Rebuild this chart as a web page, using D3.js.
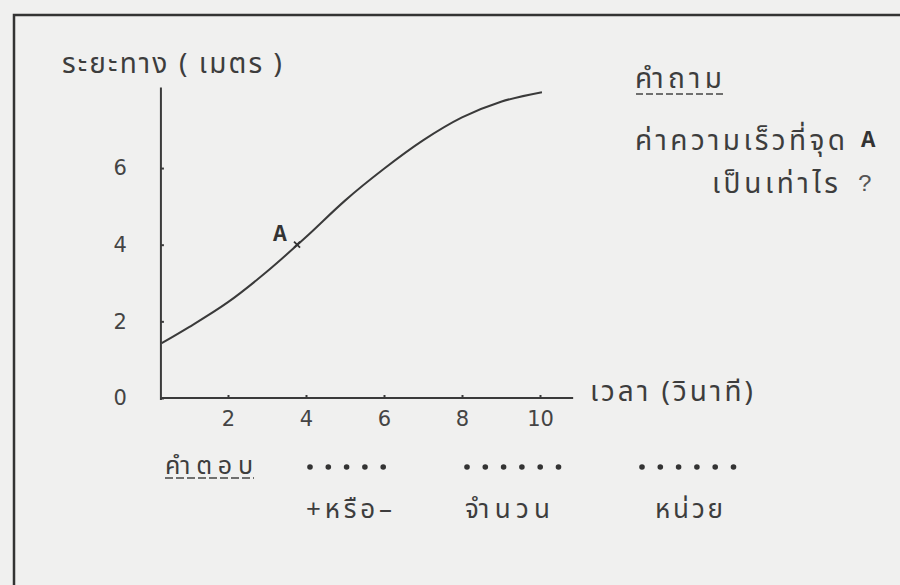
<!DOCTYPE html>
<meta charset="utf-8">
<script src="https://d3js.org/d3.v7.min.js"></script>
<style>
  body { margin: 0; background: #f0f0ef; }
  svg { display: block; }
  .thai { font-family: "Noto Sans Thai", "Loma", "Garuda", "Norasi", "DejaVu Sans", sans-serif; fill: #3d3d3d; }
  .num { font-family: "DejaVu Sans", sans-serif; fill: #444; }
</style>
<div id="chart"></div>
<script>
// ค่าที่อ่านจากกราฟ (เวลา วินาที / ระยะทาง เมตร)
const timeVals = [0.3, 1, 2, 3, 4, 5, 6, 7, 8, 9, 10.05];
const distVals = [1.43, 1.85, 2.5, 3.3, 4.2, 5.15, 5.98, 6.72, 7.32, 7.73, 7.98];
const xTicks = [2, 4, 6, 8, 10];
const yTicks = [0, 2, 4, 6];
const pointA = { t: 3.77, d: 4.0, label: "A" };

const yTitle = "ระยะทาง ( เมตร )";
const xTitle = "เวลา (วินาที)";
const questionTitle = "คำถาม";
const questionLines = ["ค่าความเร็วที่จุด", "เป็นเท่าไร"];
const answerTitle = "คำตอบ";
const answerBlanks = ["+หรือ–", "จำนวน", "หน่วย"];
const blankDots = [5, 6, 6];

const W = 900, H = 585;
const svg = d3.select("#chart").append("svg")
    .attr("width", W)
    .attr("height", H);

// กรอบรอบรูป
svg.append("rect")
    .attr("x", 14).attr("y", 15)
    .attr("width", W).attr("height", H)
    .attr("fill", "none")
    .attr("stroke", "#333")
    .attr("stroke-width", 2.5);

const x = d3.scaleLinear().domain([0, 10]).range([150, 540]);
const y = d3.scaleLinear().domain([0, 8]).range([398, 91.4]);
const axisX0 = 0.28, axisX1 = 10.85, axisY1 = 8.1;

const g = svg.append("g").attr("stroke", "#3a3a3a");

// แกน
g.append("line")
    .attr("x1", x(axisX0)).attr("x2", x(axisX0))
    .attr("y1", y(0) + 2).attr("y2", y(axisY1))
    .attr("stroke-width", 2);
g.append("line")
    .attr("x1", x(axisX0)).attr("x2", x(axisX1))
    .attr("y1", y(0)).attr("y2", y(0))
    .attr("stroke-width", 2);

// ขีดบนแกน
svg.append("g")
    .attr("transform", `translate(0,${y(0)})`)
    .call(d3.axisBottom(x).tickValues(xTicks).tickSize(-3).tickPadding(13).tickFormat(d3.format("d")))
    .call(s => s.select(".domain").remove())
    .call(s => s.selectAll("line").attr("stroke", "#3a3a3a").attr("stroke-width", 2))
    .call(s => s.selectAll("text")
        .attr("class", "num")
        .style("font-size", "21px")
        .attr("fill", d => d === 4 ? "#8a8a8a" : d === 8 ? "#a8a8a8" : "#444"));

svg.append("g")
    .attr("transform", `translate(${x(axisX0)},0)`)
    .call(d3.axisLeft(y).tickValues(yTicks).tickSize(-3).tickPadding(34).tickFormat(d3.format("d")))
    .call(s => s.select(".domain").remove())
    .call(s => s.selectAll("line").attr("stroke", "#3a3a3a").attr("stroke-width", 2))
    .call(s => s.selectAll("text")
        .attr("class", "num")
        .style("font-size", "21px")
        .attr("fill", "#444"));

// เส้นกราฟ
const pts = timeVals.map((t, i) => [t, distVals[i]]);
svg.append("path")
    .datum(pts)
    .attr("fill", "none")
    .attr("stroke", "#3a3a3a")
    .attr("stroke-width", 2)
    .attr("d", d3.line().x(d => x(d[0])).y(d => y(d[1])).curve(d3.curveMonotoneX));

// จุด A
const ax = x(pointA.t), ay = y(pointA.d);
svg.append("path")
    .attr("d", `M${ax - 3},${ay - 3}L${ax + 3},${ay + 3}M${ax - 3},${ay + 3}L${ax + 3},${ay - 3}`)
    .attr("stroke", "#333").attr("stroke-width", 1.8);
const monoA = (t, size) => t
    .attr("font-family", "'Courier New', 'Liberation Mono', monospace")
    .attr("font-weight", "bold")
    .attr("font-size", size)
    .attr("fill", "#333");
svg.append("text")
    .attr("x", ax - 17).attr("y", ay - 4)
    .attr("text-anchor", "middle")
    .call(monoA, 23)
    .text(pointA.label);

// ข้อความภาษาไทย ยืดให้กว้างเท่าต้นฉบับ
function thaiText(tx, ty, str, len, size, anchor) {
  return svg.append("text").attr("class", "thai")
      .attr("x", tx).attr("y", ty)
      .attr("text-anchor", anchor || "start")
      .attr("textLength", len)
      .attr("lengthAdjust", "spacing")
      .style("font-size", size + "px")
      .text(str);
}

// ชื่อแกน
thaiText(62, 73, yTitle, 220, 28);
thaiText(590, 401, xTitle, 163, 28);

// คำถาม
thaiText(635, 88, questionTitle, 87, 28);
svg.append("line")
    .attr("x1", 636).attr("x2", 724).attr("y1", 94).attr("y2", 94)
    .attr("stroke", "#444").attr("stroke-width", 1.6)
    .attr("stroke-dasharray", "7 3");
thaiText(635, 150, questionLines[0], 210, 28);
svg.append("text")
    .attr("x", 861).attr("y", 147)
    .call(monoA, 24)
    .text("A");
thaiText(712, 193, questionLines[1], 126, 28);
svg.append("text")
    .attr("x", 858).attr("y", 191)
    .call(monoA, 24)
    .attr("font-weight", "normal")
    .attr("fill", "#555")
    .text("?");

// คำตอบ
thaiText(165, 474, answerTitle, 88, 25);
svg.append("line")
    .attr("x1", 165).attr("x2", 254).attr("y1", 478).attr("y2", 478)
    .attr("stroke", "#444").attr("stroke-width", 1.6)
    .attr("stroke-dasharray", "8 3");

const blankX = [310, 467, 642];
const blankText = [[306, 86], [465, 85], [655, 68]];
blankDots.forEach((n, i) => {
  svg.append("g").selectAll("circle")
    .data(d3.range(n))
    .join("circle")
      .attr("cx", k => blankX[i] + k * 18.3)
      .attr("cy", 467)
      .attr("r", 2.8)
      .attr("fill", "#333");
  thaiText(blankText[i][0], 518, answerBlanks[i], blankText[i][1], 26);
});
</script>
